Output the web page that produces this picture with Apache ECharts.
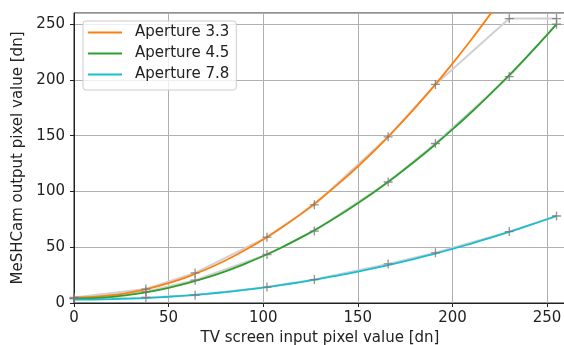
<!DOCTYPE html>
<html><head><meta charset="utf-8">
<script src="https://cdn.jsdelivr.net/npm/echarts@6/dist/echarts.min.js"></script>
<style>html,body{margin:0;padding:0;background:#fff}#c{width:564px;height:345px}</style>
</head><body><div id="c"></div>
<script>
// measured points (gray)
const measX = [0, 38, 64, 102, 127, 166, 191, 230, 255];
const meas33 = [5, 12.5, 27, 59, 88, 149, 196, 255, 255];
const meas45 = [4, 10, 20.5, 43.5, 64.5, 108.5, 143, 203, 250];
const meas78 = [4, 5, 7, 14.3, 21, 35, 45, 64, 78];
// fitted curves
const fitX = [0,10,20,30,40,50,60,70,80,90,100,110,120,130,140,150,160,170,180,190,200,210,220,230,240,250,255];
const fit33 = [5,5.5,7,9.6,13.2,17.8,23.5,30.3,38.1,47,56.9,67.9,79.9,93,107.2,122.4,138.7,156.1,174.5,194,214.6,236.2,259,282.7,null,null,null];
const fit45 = [4,4.4,5.5,7.5,10.1,13.6,17.8,22.7,28.4,34.9,42.1,50,58.8,68.2,78.4,89.4,101.1,113.6,126.8,140.8,155.6,171,187.3,204.2,222,240.4,250];
const fit78 = [3,3.1,3.4,3.9,4.6,5.6,6.8,8.2,9.8,11.7,13.8,16.2,18.8,21.7,24.7,28.1,31.7,35.5,39.6,43.9,48.5,53.3,58.4,63.7,69.3,75.1,78.1];
const names = ['Aperture 3.3', 'Aperture 4.5', 'Aperture 7.8'];
const colors = ['#ff7f0e', '#2ca02c', '#17becf'];
const xTicks = [0, 50, 100, 150, 200, 250];

const pairs = (xs, ys) => xs.map((x, i) => [x, ys[i]]).filter(p => p[1] !== null);
const font = 'DejaVu Sans';
const plus = 'path://M5,0L5,10M0,5L10,5';

const series = [];
[meas33, meas45, meas78].forEach((m, i) => {
  series.push({ name: 'meas' + i, type: 'line', data: pairs(measX, m), showSymbol: false,
    lineStyle: { color: '#d0d0d0', width: 2 }, z: 1, silent: true, animation: false });
});
[fit33, fit45, fit78].forEach((f, i) => {
  series.push({ name: names[i], type: 'line', data: pairs(fitX, f), smooth: 0.3, showSymbol: false,
    color: colors[i], lineStyle: { color: colors[i], width: 1.8 }, z: 3, animation: false });
});
[meas33, meas45, meas78].forEach((m, i) => {
  series.push({ name: 'mk' + i, type: 'scatter', data: pairs(measX, m), symbol: plus, symbolSize: 9,
    itemStyle: { color: 'rgba(0,0,0,0)', borderColor: '#777', borderWidth: 1.3 }, z: 4, animation: false });
});

const chart = echarts.init(document.getElementById('c'), null, { renderer: 'canvas' });
chart.setOption({
  animation: false,
  textStyle: { fontFamily: font },
  grid: { left: 74, right: -2, top: 13, bottom: 42, show: true, borderColor: '#222', borderWidth: 1,
    containLabel: false, outerBoundsMode: 'none' },
  legend: {
    data: names, orient: 'vertical', left: 83, top: 21, itemWidth: 34, itemHeight: 2, itemGap: 6,
    icon: 'rect', padding: [4, 7, 8, 5], backgroundColor: 'rgba(255,255,255,0.8)',
    borderColor: '#ccc', borderWidth: 1, borderRadius: 3,
    textStyle: { fontFamily: font, fontSize: 15, color: '#222', padding: [0, 0, 0, 8] }
  },
  xAxis: {
    type: 'value', min: 0, max: 260, interval: 50,
    name: 'TV screen input pixel value [dn]', nameLocation: 'middle', nameGap: 21,
    nameTextStyle: { fontFamily: font, fontSize: 15, color: '#222' },
    axisLine: { show: true, lineStyle: { color: '#222', width: 1 } },
    axisTick: { show: true, inside: false, length: 4, lineStyle: { color: '#222' } },
    axisLabel: { fontFamily: font, fontSize: 15, color: '#222', margin: 8, showMaxLabel: false,
      formatter: v => xTicks.includes(v) ? String(v) : '' },
    splitLine: { show: true, lineStyle: { color: '#b0b0b0', width: 1 } }
  },
  yAxis: {
    type: 'value', min: 0, max: 260, interval: 50,
    name: 'MeSHCam output pixel value [dn]', nameLocation: 'middle', nameGap: 45,
    nameTextStyle: { fontFamily: font, fontSize: 15, color: '#222' },
    axisLine: { show: true, lineStyle: { color: '#222', width: 1 } },
    axisTick: { show: true, inside: false, length: 4, lineStyle: { color: '#222' } },
    axisLabel: { fontFamily: font, fontSize: 15, color: '#222', margin: 9, showMaxLabel: false },
    splitLine: { show: true, lineStyle: { color: '#b0b0b0', width: 1 } }
  },
  series: series
});
</script></body></html>
